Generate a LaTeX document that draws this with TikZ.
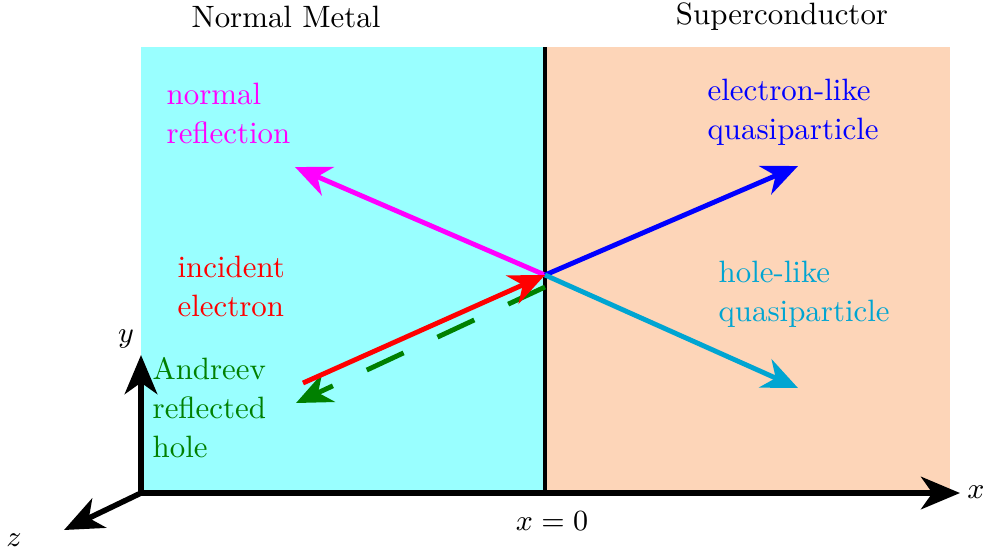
\documentclass[tikz,border=0pt]{standalone}
\usetikzlibrary{arrows.meta}
\definecolor{nmcol}{RGB}{153,255,255}
\definecolor{sccol}{RGB}{253,213,184}
\definecolor{holecol}{RGB}{0,165,210}
\definecolor{andcol}{RGB}{0,128,0}
\definecolor{magcol}{RGB}{255,0,255}
\tikzset{
  vec/.style={line width=1.5pt,-{Stealth[length=11pt,width=9.5pt,inset=3.5pt]}},
  axis/.style={line width=1.7pt,-{Stealth[length=12pt,width=10pt,inset=3.5pt]}},
  lbl/.style={align=left,inner sep=0pt,anchor=west,font=\fontsize{9.5}{12}\selectfont},
  every node/.append style={font=\fontsize{9.5}{12}\selectfont},
}
\begin{document}
\begin{tikzpicture}[x=0.30769pt,y=-0.30769pt]
\useasboundingbox (0,0) rectangle (984,554);
\fill[nmcol] (141,47) rectangle (545,493);
\fill[sccol] (545,47) rectangle (950,493);
\draw[line width=1.4pt] (545,47) -- (545,493);
\coordinate (O) at (141,493);
\coordinate (C) at (545,275);
\coordinate (xe) at (960,493);
\coordinate (ye) at (141,355);
\coordinate (ze) at (64,530);
\draw[axis] (O) -- (xe);
\draw[axis] (O) -- (ye);
\draw[axis] (O) -- (ze);
\node (xl) at (976,492) {$x$};
\node (yl) at (126,339) {$y$};
\node (zl) at (14,540) {$z$};
\node (x0) at (552,521) {$x=0$};
\node (nm) at (286,17) {Normal Metal};
\node (sc) at (782,17) {Superconductor};
\coordinate (mr) at (295,167);
\coordinate (bl) at (798,166);
\coordinate (hl) at (798,388);
\coordinate (rs) at (303,383);
\coordinate (gs) at (545,287);
\coordinate (ge) at (296,403);
\draw[vec,magcol] (C) -- (mr);
\draw[vec,blue] (C) -- (bl);
\draw[vec,holecol] (C) -- (hl);
\draw[vec,andcol,dash pattern=on 12.5pt off 11.5pt] (gs) -- (ge);
\draw[vec,red] (rs) -- (C);
\node[lbl,magcol] (t1) at (166,113) {normal\\reflection};
\node[lbl,blue] (t2) at (707,112) {electron-like\\quasiparticle};
\node[lbl,holecol] (t3) at (718,294) {hole-like\\quasiparticle};
\node[lbl,red] (t4) at (177,286) {incident\\electron};
\node[lbl,andcol] (t5) at (152,408) {Andreev\\reflected\\hole};
\end{tikzpicture}
\end{document}
